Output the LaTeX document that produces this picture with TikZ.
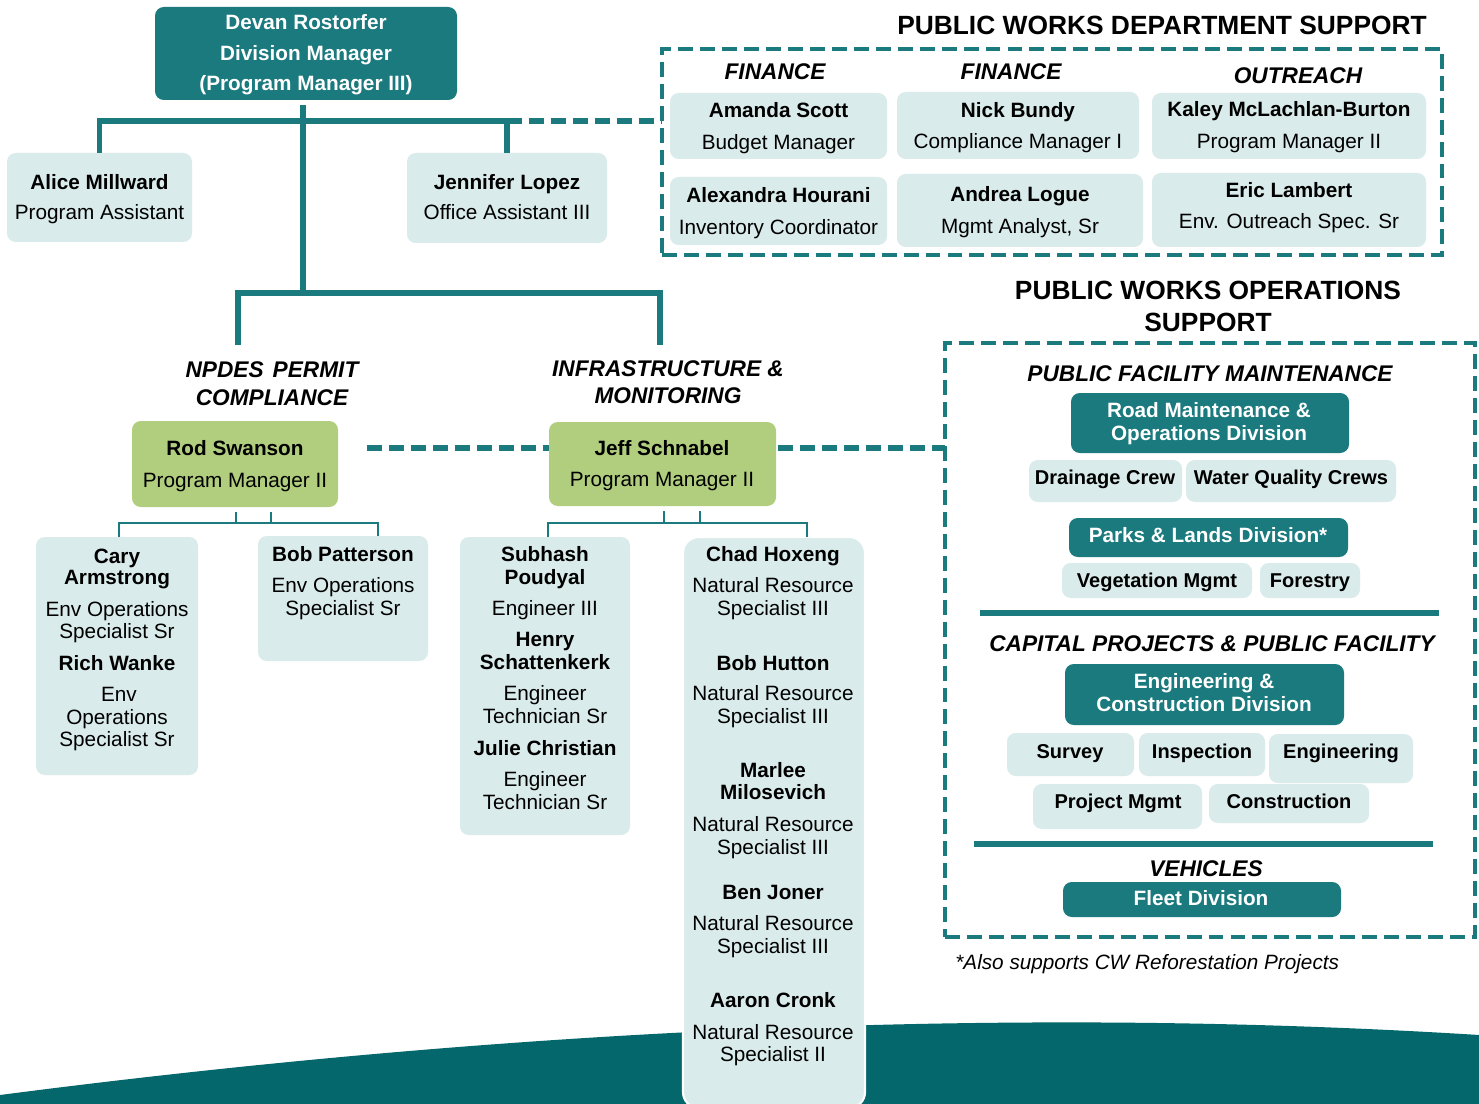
\documentclass[tikz,border=0pt]{standalone}
\usepackage{fontspec}
\setmainfont{Liberation Sans}
\definecolor{pwteal}{HTML}{1B7A7E}
\definecolor{pwlight}{HTML}{D9EBEA}
\definecolor{pwgreen}{HTML}{B1CD7E}
\definecolor{pwwave}{HTML}{03676B}
\newcommand\fbody{\fontsize{11.8pt}{13pt}\selectfont}
\newcommand\fsec{\fontsize{12.9pt}{14pt}\selectfont\bfseries\itshape}
\newcommand\ftitle{\fontsize{15pt}{17pt}\selectfont\bfseries}
\newcommand\fops{\fontsize{11.4pt}{13pt}\selectfont\bfseries}
\newcommand\pwbox[6]{\node[#2, minimum width={(#5-#3)*0.02cm}, minimum height={(#6-#4)*0.02cm}] (#1) at ({(#3+#5)/2},{(#4+#6)/2}) {};}
\newcommand\pwt[5]{\node[tx,#4] (#1) at (#2,#3) {#5};}
\tikzset{
  lbox/.style={fill=pwlight, rounded corners=5pt, inner sep=0pt, outer sep=0pt},
  gbox/.style={fill=pwgreen, rounded corners=5pt, inner sep=0pt, outer sep=0pt},
  tbox/.style={fill=pwteal, rounded corners=5pt, inner sep=0pt, outer sep=0pt},
  cbox/.style={fill=pwlight, draw=white, line width=1.2pt, rounded corners=9pt, inner sep=0pt, outer sep=0pt},
  dbox/.style={draw=pwteal, line width=2.8pt, dash pattern=on 8.5pt off 4pt, inner sep=0pt, outer sep=0pt},
  conn/.style={draw=pwteal, line width=3.3pt},
  thinconn/.style={draw=pwteal, line width=1.6pt},
  dconn/.style={draw=pwteal, line width=3.2pt, dash pattern=on 8.5pt off 4pt},
  tx/.style={inner sep=0pt, anchor=mid, yshift=-0.06cm},
  nb/.style={font=\fbody\bfseries},
  nr/.style={font=\fbody},
  wb/.style={font=\fbody\bfseries, text=white},
  sec/.style={font=\fsec, yshift=-0.02cm},
  ttl/.style={font=\ftitle, yshift=-0.04cm},
  ob/.style={font=\fops},
}
\begin{document}
\begin{tikzpicture}[x=0.02cm, y=-0.02cm]
\fill[white] (0,0) rectangle (1479,1104);
\useasboundingbox (0,0) rectangle (1479,1104);
% bottom wave
\fill[pwwave] (0,1104) -- (0,1095) .. controls (500,1030) and (1000,1005) .. (1479,1035) -- (1479,1104) -- cycle;

% ---------- top management ----------
\pwbox{dev}{tbox}{155}{7}{457}{100}
\pwt{dev1}{306}{22}{wb}{Devan Rostorfer}
\pwt{dev2}{306}{53}{wb}{Division Manager}
\pwt{dev3}{306}{83}{wb}{(Program Manager III)}

\pwbox{alice}{lbox}{7}{153}{192}{242}
\pwt{alice1}{99.5}{182}{nb}{Alice Millward}
\pwt{alice2}{99.5}{212}{nr}{Program Assistant}

\pwbox{jen}{lbox}{407}{153}{607}{243}
\pwt{jen1}{507}{182}{nb}{Jennifer Lopez}
\pwt{jen2}{507}{212}{nr}{Office Assistant III}

% ---------- department support ----------
\pwt{deptT}{1162}{25}{ttl}{PUBLIC WORKS DEPARTMENT SUPPORT}
\pwbox{dept}{dbox}{662}{49}{1442}{255}
\pwt{finA}{775}{71}{sec}{FINANCE}
\pwt{finB}{1011}{71}{sec}{FINANCE}
\pwt{outr}{1298}{75}{sec}{OUTREACH}

\pwbox{amanda}{lbox}{670}{93}{887}{159}
\pwt{amanda1}{778.5}{110}{nb}{Amanda Scott}
\pwt{amanda2}{778.5}{142}{nr}{Budget Manager}
\pwbox{nick}{lbox}{897}{92}{1139}{159}
\pwt{nick1}{1018}{110}{nb}{Nick Bundy}
\pwt{nick2}{1018}{141}{nr}{Compliance Manager I}
\pwbox{kaley}{lbox}{1152}{93}{1426}{159}
\pwt{kaley1}{1289}{109}{nb}{Kaley McLachlan-Burton}
\pwt{kaley2}{1289}{141}{nr}{Program Manager II}
\pwbox{alex}{lbox}{670}{177}{887}{245}
\pwt{alex1}{778.5}{195}{nb}{Alexandra Hourani}
\pwt{alex2}{778.5}{227}{nr}{Inventory Coordinator}
\pwbox{andrea}{lbox}{897}{174}{1143}{247}
\pwt{andrea1}{1020}{194}{nb}{Andrea Logue}
\pwt{andrea2}{1020}{226}{nr}{Mgmt Analyst, Sr}
\pwbox{eric}{lbox}{1152}{173}{1426}{247}
\pwt{eric1}{1289}{190}{nb}{Eric Lambert}
\pwt{eric2}{1289}{221}{nr}{Env. Outreach Spec. Sr}

% ---------- programs ----------
\pwt{npd1}{272}{369}{sec}{NPDES\hspace{0.4em}PERMIT}
\pwt{npd2}{272}{397}{sec}{COMPLIANCE}
\pwt{inf1}{668}{368}{sec}{INFRASTRUCTURE \&}
\pwt{inf2}{668}{395}{sec}{MONITORING}

\pwbox{rod}{gbox}{132}{421}{338}{507}
\pwt{rod1}{235}{448}{nb}{Rod Swanson}
\pwt{rod2}{235}{480}{nr}{Program Manager II}
\pwbox{jeff}{gbox}{549}{422}{776}{506}
\pwt{jeff1}{662}{448}{nb}{Jeff Schnabel}
\pwt{jeff2}{662}{479}{nr}{Program Manager II}

\pwbox{cary}{lbox}{36}{537}{198}{775}
\pwt{cary1}{117}{556}{nb}{Cary}
\pwt{cary2}{117}{577}{nb}{Armstrong}
\pwt{cary3}{117}{609}{nr}{Env Operations}
\pwt{cary4}{117}{631}{nr}{Specialist Sr}
\pwt{cary5}{117}{663}{nb}{Rich Wanke}
\pwt{cary6}{119}{694}{nr}{Env}
\pwt{cary7}{117}{717}{nr}{Operations}
\pwt{cary8}{117}{739}{nr}{Specialist Sr}

\pwbox{bob}{lbox}{258}{536}{428}{661}
\pwt{bob1}{343}{554}{nb}{Bob Patterson}
\pwt{bob2}{343}{585}{nr}{Env Operations}
\pwt{bob3}{343}{608}{nr}{Specialist Sr}

\pwbox{sub}{lbox}{460}{537}{630}{835}
\pwt{sub1}{545}{554}{nb}{Subhash}
\pwt{sub2}{545}{577}{nb}{Poudyal}
\pwt{sub3}{545}{608}{nr}{Engineer III}
\pwt{sub4}{545}{639}{nb}{Henry}
\pwt{sub5}{545}{662}{nb}{Schattenkerk}
\pwt{sub6}{545}{693}{nr}{Engineer}
\pwt{sub7}{545}{716}{nr}{Technician Sr}
\pwt{sub8}{545}{748}{nb}{Julie Christian}
\pwt{sub9}{545}{779}{nr}{Engineer}
\pwt{sub10}{545}{802}{nr}{Technician Sr}

\pwbox{chad}{cbox}{683}{537}{865}{1108}
\pwt{chad1}{773}{554}{nb}{Chad Hoxeng}
\pwt{chad2}{773}{585}{nr}{Natural Resource}
\pwt{chad3}{773}{608}{nr}{Specialist III}
\pwt{chad4}{773}{663}{nb}{Bob Hutton}
\pwt{chad5}{773}{693}{nr}{Natural Resource}
\pwt{chad6}{773}{716}{nr}{Specialist III}
\pwt{chad7}{773}{770}{nb}{Marlee}
\pwt{chad8}{773}{792}{nb}{Milosevich}
\pwt{chad9}{773}{824}{nr}{Natural Resource}
\pwt{chad10}{773}{847}{nr}{Specialist III}
\pwt{chad11}{773}{892}{nb}{Ben Joner}
\pwt{chad12}{773}{923}{nr}{Natural Resource}
\pwt{chad13}{773}{946}{nr}{Specialist III}
\pwt{chad14}{773}{1000}{nb}{Aaron Cronk}
\pwt{chad15}{773}{1032}{nr}{Natural Resource}
\pwt{chad16}{773}{1054}{nr}{Specialist II}

% ---------- operations support ----------
\pwt{opsT1}{1208}{290}{ttl}{PUBLIC WORKS OPERATIONS}
\pwt{opsT2}{1208}{322}{ttl}{SUPPORT}
\pwbox{ops}{dbox}{945}{343}{1475}{937}
\pwt{pfm}{1210}{373}{sec}{PUBLIC FACILITY MAINTENANCE}
\pwbox{road}{tbox}{1071}{393}{1349}{453}
\pwt{road1}{1209}{410}{wb}{Road Maintenance \&}
\pwt{road2}{1209}{433}{wb}{Operations Division}
\pwbox{drain}{lbox}{1029}{460}{1182}{502}
\pwt{drain1}{1105}{477}{ob}{Drainage Crew}
\pwbox{water}{lbox}{1186}{460}{1396}{502}
\pwt{water1}{1291}{477}{ob}{Water Quality Crews}
\pwbox{parks}{tbox}{1069}{518}{1348}{557}
\pwt{parks1}{1208}{535}{wb}{Parks \& Lands Division*}
\pwbox{veg}{lbox}{1062}{563}{1252}{598}
\pwt{veg1}{1157}{580}{ob}{Vegetation Mgmt}
\pwbox{forest}{lbox}{1260}{563}{1360}{598}
\pwt{forest1}{1310}{580}{ob}{Forestry}
\draw[pwteal, line width=3.3pt] (980,613) -- (1439,613);
\pwt{cap}{1212}{643}{sec}{CAPITAL PROJECTS \& PUBLIC FACILITY}
\pwbox{eng}{tbox}{1065}{664}{1344}{725}
\pwt{eng1}{1204}{681}{wb}{Engineering \&}
\pwt{eng2}{1204}{704}{wb}{Construction Division}
\pwbox{survey}{lbox}{1007}{733}{1134}{776}
\pwt{survey1}{1070}{751}{ob}{Survey}
\pwbox{insp}{lbox}{1139}{733}{1265}{776}
\pwt{insp1}{1202}{751}{ob}{Inspection}
\pwbox{engg}{lbox}{1269}{734}{1413}{783}
\pwt{engg1}{1341}{751}{ob}{Engineering}
\pwbox{pm}{lbox}{1033}{784}{1202}{829}
\pwt{pm1}{1118}{801}{ob}{Project Mgmt}
\pwbox{cons}{lbox}{1209}{784}{1369}{823}
\pwt{cons1}{1289}{801}{ob}{Construction}
\draw[pwteal, line width=3.3pt] (974,844) -- (1433,844);
\pwt{veh}{1206}{868}{sec}{VEHICLES}
\pwbox{fleet}{tbox}{1063}{882}{1341}{917}
\pwt{fleet1}{1201}{898}{wb}{Fleet Division}
\node[inner sep=0pt, anchor=mid west, yshift=-0.06cm, font=\fbody\itshape] (foot) at (955,962) {*Also supports CW Reforestation Projects};

% ---------- connectors ----------
\coordinate (hub) at (303,121);
\coordinate (mid) at (303,293);
\coordinate (npL) at (238,345);
\coordinate (npR) at (660,345);
\draw[conn, shorten <=0.1cm] (dev.south -| hub) -- (mid);
\draw[conn] (alice.north) -- (alice.north |- hub) -- (jen.north |- hub) -- (jen.north);
\draw[dconn] (jen.north |- hub) -- (dept.west |- hub);
\draw[conn] (npL) -- (npL |- mid) -- (npR |- mid) -- (npR);

\coordinate (rj) at (367,448);
\draw[dconn] (rj) -- (jeff.west |- rj);
\draw[dconn] ([xshift=0.04cm]jeff.east |- rj) -- (ops.west |- rj);

\coordinate (r1) at (236,523);
\coordinate (r2) at (271,523);
\coordinate (rhL) at (119,523);
\coordinate (rhR) at (378,523);
\draw[thinconn, shorten <=0.1cm] (rod.south -| r1) -- (r1);
\draw[thinconn, shorten <=0.1cm] (rod.south -| r2) -- (r2);
\draw[thinconn] (cary.north -| rhL) -- (rhL) -- (rhR) -- (bob.north -| rhR);

\coordinate (j1) at (664,523);
\coordinate (j2) at (700,523);
\coordinate (jhL) at (548,523);
\coordinate (jhR) at (807,523);
\draw[thinconn, shorten <=0.1cm] (jeff.south -| j1) -- (j1);
\draw[thinconn, shorten <=0.1cm] (jeff.south -| j2) -- (j2);
\draw[thinconn] (sub.north -| jhL) -- (jhL) -- (jhR) -- (chad.north -| jhR);
\end{tikzpicture}
\end{document}
